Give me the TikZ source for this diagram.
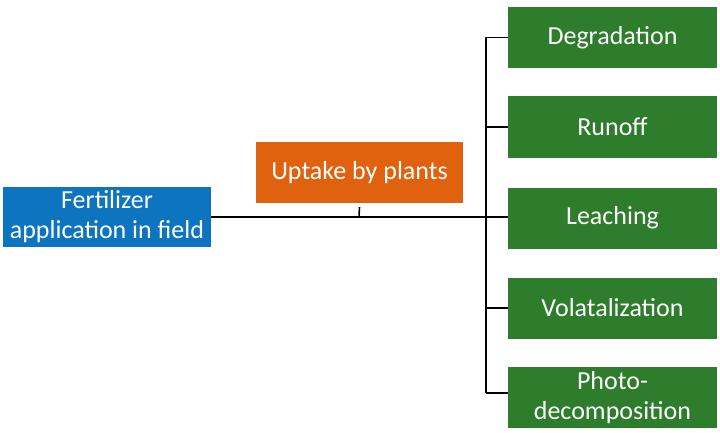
\documentclass[tikz,border=0pt]{standalone}
\usepackage{fontspec}
\setmainfont{Carlito}
\definecolor{fblue}{HTML}{0D74BF}
\definecolor{uorange}{HTML}{E0620E}
\definecolor{lgreen}{HTML}{2E7D2C}
\begin{document}
\begin{tikzpicture}[x=1pt,y=-1pt,
  box/.style={draw=none,inner sep=0pt,text=white,align=center,font=\fontsize{26}{30}\selectfont},
  line/.style={draw=black,line width=1.6pt}]
\useasboundingbox (0,0) rectangle (720,433);
\node[box,fill=fblue,minimum width=208pt,minimum height=60pt] (fert) at (107,217) {Fertilizer\\application in field};
\node[box,fill=uorange,minimum width=207pt,minimum height=61pt] (upt) at (359.5,172.5) {Uptake by plants};
\foreach \n/\y/\t in {deg/37.5/Degradation,run/127/Runoff,lea/218/Leaching,vol/308/Volatalization,pho/397.5/{Photo-\\decomposition}}
  \node[box,fill=lgreen,minimum width=209pt,minimum height=61pt] (\n) at (612.5,\y) {\t};
\coordinate (j) at (486,217);
\coordinate (t) at (359,217);
\coordinate (top) at (486,37.5);
\coordinate (bot) at (486,393);
\draw[line] (fert.east |- j) -- (lea.west |- j);
\draw[line] (upt.south |- 0,207) -- (t);
\draw[line] (top) -- (bot);
\draw[line] (top) -- (deg.west |- top);
\draw[line] (486,127) -- (run.west);
\draw[line] (486,308) -- (vol.west);
\draw[line] (bot) -- (pho.west |- bot);
\end{tikzpicture}
\end{document}
